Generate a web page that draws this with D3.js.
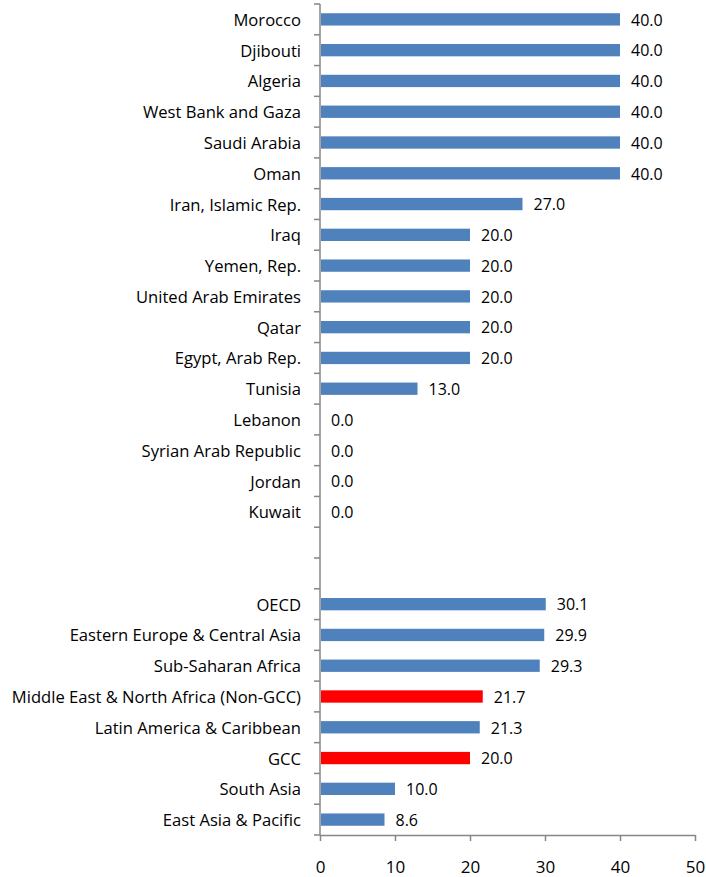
<!DOCTYPE html>
<html><head><meta charset="utf-8">
<script src="https://cdn.jsdelivr.net/npm/d3@7"></script>
<style>body{margin:0;background:#fff}svg{display:block}text{font-family:"Open Sans",sans-serif;fill:#000}</style>
</head><body><svg id="c" width="706" height="877"></svg>
<script>
const categories = ["Morocco","Djibouti","Algeria","West Bank and Gaza","Saudi Arabia","Oman","Iran, Islamic Rep.","Iraq","Yemen, Rep.","United Arab Emirates","Qatar","Egypt, Arab Rep.","Tunisia","Lebanon","Syrian Arab Republic","Jordan","Kuwait","","","OECD","Eastern Europe & Central Asia","Sub-Saharan Africa","Middle East & North Africa (Non-GCC)","Latin America & Caribbean","GCC","South Asia","East Asia & Pacific"];
const values = [40,40,40,40,40,40,27,20,20,20,20,20,13,0,0,0,0,null,null,30.1,29.9,29.3,21.7,21.3,20.0,10.0,8.6];
const highlighted = ["Middle East & North Africa (Non-GCC)","GCC"];
const xTicks = [0,10,20,30,40,50];

(function(){
const rowKeys = categories.map((c,i)=>c===""?"_blank"+i:c);
const rows = rowKeys.map((k,i)=>({k,name:categories[i],v:values[i]}));

const svg = d3.select("#c");
const L=320, R=695, T=4, B=835;
const x = d3.scaleLinear().domain([0,50]).range([L,R]);
const y = d3.scaleBand().domain(rowKeys).range([T,B]).paddingInner(0.6).paddingOuter(0.3);
const step = (B-T)/rowKeys.length;

const g = svg.append("g");
g.selectAll("rect").data(rows.filter(d=>d.v!==null && d.v>0))
 .join("rect")
 .attr("x",x(0)+1).attr("y",d=>y(d.k)).attr("width",d=>x(d.v)-x(0)-1).attr("height",y.bandwidth())
 .attr("fill",d=>highlighted.includes(d.name)?"#FF0000":"#4F81BD");

g.selectAll("text.v").data(rows.filter(d=>d.v!==null))
 .join("text").attr("class","v")
 .attr("x",d=>x(d.v)+11).attr("y",d=>y(d.k)+y.bandwidth()/2+0.5).attr("dy","0.36em")
 .attr("font-size",16).text(d=>d.v.toFixed(1));

g.selectAll("text.c").data(rows)
 .join("text").attr("class","c")
 .attr("x",L-19).attr("y",d=>y(d.k)+y.bandwidth()/2+0.5).attr("dy","0.36em")
 .attr("text-anchor","end").attr("font-size",16.6).text(d=>d.name);

const axc="#868686";
g.append("line").attr("x1",L).attr("x2",L).attr("y1",T).attr("y2",B).attr("stroke",axc).attr("stroke-width",1.5);
g.selectAll("line.yt").data(d3.range(rowKeys.length+1)).join("line").attr("class","yt")
 .attr("x1",L-6).attr("x2",L).attr("y1",i=>T+i*step).attr("y2",i=>T+i*step).attr("stroke",axc).attr("stroke-width",1.5);

const xa = d3.axisBottom(x).tickValues(xTicks).tickSize(6).tickPadding(20).tickSizeOuter(0);
const ag = svg.append("g").attr("transform",`translate(0,${B})`).call(xa);
ag.select(".domain").attr("stroke",axc).attr("stroke-width",1.5);
ag.selectAll(".tick line").attr("stroke",axc).attr("stroke-width",1.5);
ag.selectAll(".tick text").attr("font-size",17).attr("font-family","'Open Sans',sans-serif").attr("fill","#000");
})();
</script></body></html>
